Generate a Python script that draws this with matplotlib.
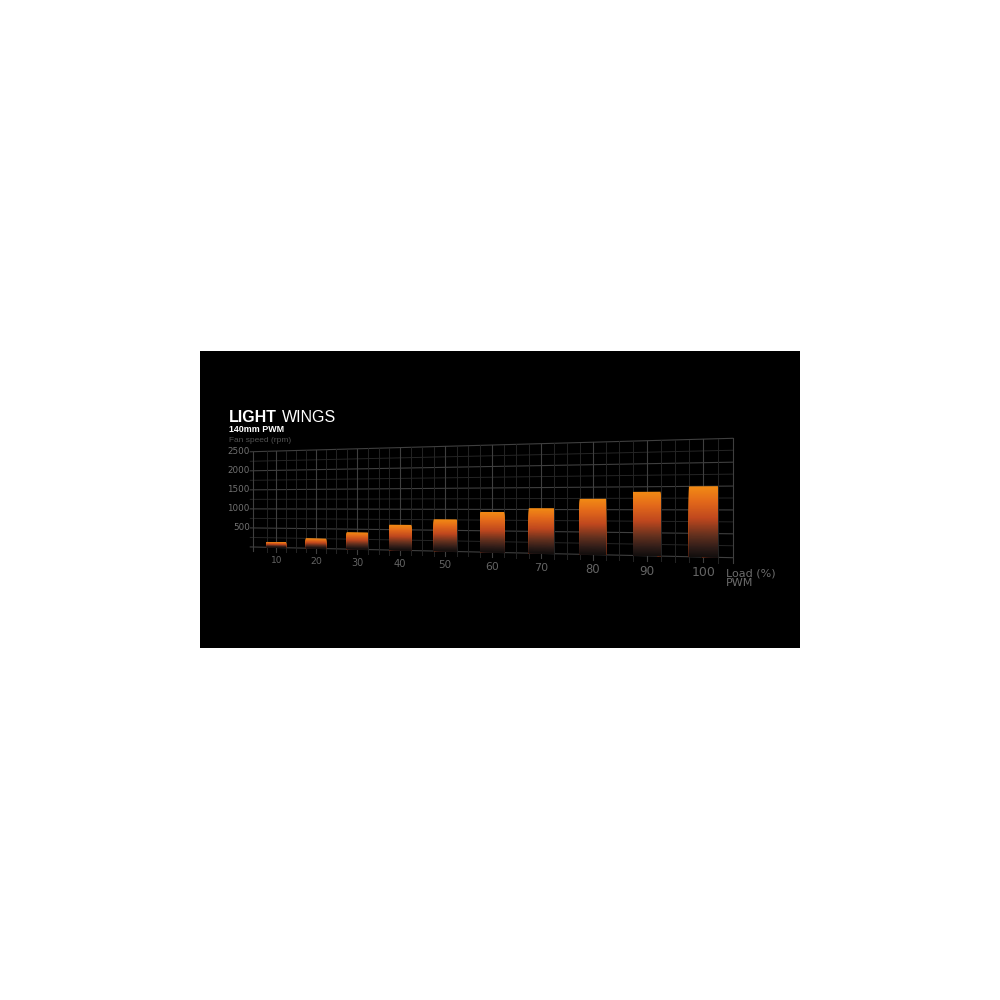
import numpy as np
import matplotlib
matplotlib.use('Agg')
import matplotlib.pyplot as plt
import matplotlib.transforms as mtransforms
from matplotlib.colors import LinearSegmentedColormap

# data
load_pct = [10, 20, 30, 40, 50, 60, 70, 80, 90, 100]
fan_rpm = [140, 250, 420, 620, 760, 940, 1030, 1240, 1390, 1500]
rpm_ticks = [500, 1000, 1500, 2000, 2500]

x_min, x_max = 4, 105
y_min, y_max = 0, 2500


class Perspective(mtransforms.Transform):
    """Projective map of the unit square onto a tilted quad (axes fraction)."""
    input_dims = output_dims = 2
    is_separable = False
    has_inverse = True

    def __init__(self, matrix):
        super().__init__()
        self.matrix = matrix

    def transform_non_affine(self, values):
        v = np.asarray(values, dtype=float).reshape(-1, 2)
        p = np.column_stack([v, np.ones(len(v))]) @ self.matrix.T
        return p[:, :2] / p[:, 2:3]

    def inverted(self):
        return Perspective(np.linalg.inv(self.matrix))


def homography(src, dst):
    rows, rhs = [], []
    for (x, y), (u, v) in zip(src, dst):
        rows.append([x, y, 1, 0, 0, 0, -u * x, -u * y])
        rhs.append(u)
        rows.append([0, 0, 0, x, y, 1, -v * x, -v * y])
        rhs.append(v)
    h = np.linalg.solve(np.array(rows), np.array(rhs))
    return np.append(h, 1).reshape(3, 3)


fig = plt.figure(figsize=(10, 10), dpi=100, facecolor='white')

# black panel
bg = fig.add_axes([0.2, 0.352, 0.6, 0.297])
bg.set_facecolor('black')
bg.set_xticks([])
bg.set_yticks([])
for s in bg.spines.values():
    s.set_visible(False)

# chart area, grid plane drawn in perspective inside it
ax = fig.add_axes([0.2533, 0.4423, 0.4794, 0.1194])
ax.set_xlim(x_min, x_max)
ax.set_ylim(y_min, y_max)
ax.axis('off')

square = [(0, 0), (0, 1), (1, 0), (1, 1)]
quad = [(0, 0.0896), (0, 0.8878), (1, 0), (1, 1)]
persp = Perspective(homography(square, quad))
pt = ax.transScale + ax.transLimits + persp + ax.transAxes

major_c, minor_c = '#3f3f3f', '#252525'

# horizontal grid
for gy in np.arange(0, y_max + 1, 250):
    major = gy % 500 == 0
    ax.plot([x_min - 0.8, x_max], [gy, gy], transform=pt, clip_on=False,
            color=major_c if major else minor_c, lw=0.8 if major else 0.7, zorder=1)

# vertical grid
grid_x = [x_min] + list(np.arange(7.5, 103, 2.5)) + [x_max]
for gx in grid_x:
    major = gx % 10 == 0 or gx in (x_min, x_max)
    ax.plot([gx, gx], [-110, y_max], transform=pt, clip_on=False,
            color=major_c if major else minor_c, lw=0.8 if major else 0.7, zorder=1)

# gradient bars: stacked overlapping slices, orange at top to black at bottom
grad = LinearSegmentedColormap.from_list('fade', [
    (0.0, '#f28a14'), (0.2, '#e46a1a'), (0.45, '#c0481e'),
    (0.7, '#62301e'), (0.88, '#2e1c18'), (1.0, '#140f0e')])
n_slices = 60
for x, h in zip(load_pct, fan_rpm):
    for k in range(n_slices):
        top = h * (1 - k / n_slices)
        ax.bar(x, top, width=5, color=grad(k / (n_slices - 1)), linewidth=0,
               transform=pt, clip_on=False, zorder=3)

# y tick labels
shift_y = mtransforms.ScaledTranslation(-3.5 / 100, 0, fig.dpi_scale_trans)
for v in rpm_ticks:
    ax.text(x_min, v, str(v), transform=pt + shift_y, ha='right', va='center',
            fontsize=6.3, color='#727272', family='DejaVu Sans')


def local_height(x):
    a, b = pt.transform([[x, 0], [x, y_max]])
    return abs(b[1] - a[1])


# x tick labels, sized with the perspective
ref_h = local_height(100)
for x in load_pct:
    ax.text(x, -335, str(x), transform=pt, ha='center', va='center',
            fontsize=9.0 * (local_height(x) / ref_h) ** 1.6, color='#646464',
            family='DejaVu Sans')

# axis title, two lines in one text
ax.text(103.8, -440, 'Load (%)\nPWM', transform=pt, ha='left', va='center',
        fontsize=8.0, color='#6c6c6c', family='DejaVu Sans', linespacing=1.0)

# titles
fig.text(0.2293, 0.5783, 'LIGHT', color='white', fontsize=11.5, fontweight='bold',
         family='Liberation Sans', va='baseline', ha='left')
fig.text(0.2817, 0.5783, 'WINGS', color='white', fontsize=11.5,
         family='Liberation Sans', va='baseline', ha='left')
fig.text(0.2293, 0.5683, '140mm PWM', color='white', fontsize=6.4, fontweight='bold',
         family='Liberation Sans', va='baseline', ha='left')
fig.text(0.2293, 0.5575, 'Fan speed (rpm)', color='#525252', fontsize=6.0,
         family='Liberation Sans', va='baseline', ha='left')

fig.savefig('out.png', dpi=100, facecolor='white')
